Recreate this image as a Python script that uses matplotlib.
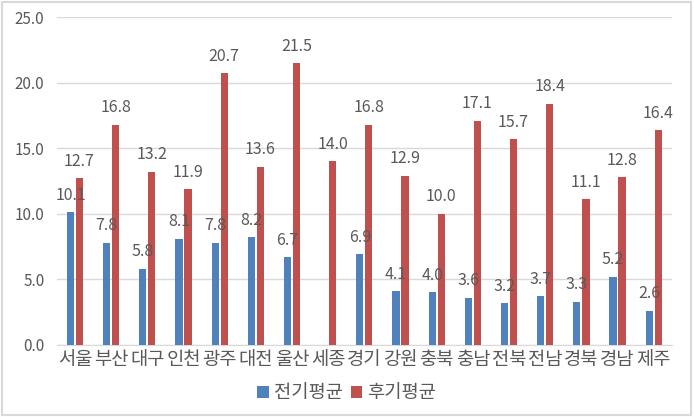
import matplotlib.pyplot as plt
import numpy as np
from matplotlib.patches import Rectangle

plt.rcParams['font.family'] = ['Noto Sans CJK KR', 'DejaVu Sans']

regions = ['서울', '부산', '대구', '인천', '광주', '대전', '울산', '세종', '경기',
           '강원', '충북', '충남', '전북', '전남', '경북', '경남', '제주']
early = [10.1, 7.8, 5.8, 8.1, 7.8, 8.2, 6.7, np.nan, 6.9,
         4.1, 4.0, 3.6, 3.2, 3.7, 3.3, 5.2, 2.6]
late = [12.7, 16.8, 13.2, 11.9, 20.7, 13.6, 21.5, 14.0, 16.8,
        12.9, 10.0, 17.1, 15.7, 18.4, 11.1, 12.8, 16.4]

blue = '#4F81BD'
red = '#C0504D'
txt = '#595959'

fig = plt.figure(figsize=(6.94, 4.17), dpi=100)
ax = fig.add_axes([0.082, 0.173, 0.886, 0.786])

x = np.arange(len(regions))
w = 0.2
off = 0.125
ax.bar(x - off, early, w, color=blue, label='전기평균', zorder=3)
ax.bar(x + off, late, w, color=red, label='후기평균', zorder=3)

for i in range(len(regions)):
    if not np.isnan(early[i]):
        ax.annotate(f'{early[i]:.1f}', (x[i] - off, early[i]), xytext=(0, 6),
                    textcoords='offset points', ha='center', va='bottom',
                    fontsize=11.5, color=txt)
    ax.annotate(f'{late[i]:.1f}', (x[i] + off, late[i]), xytext=(0, 6),
                textcoords='offset points', ha='center', va='bottom',
                fontsize=11.5, color=txt)

ax.set_xlim(-0.5, len(regions) - 0.5)
ax.set_ylim(0, 25)
ax.set_yticks(np.arange(0, 26, 5))
ax.set_yticklabels([f'{v:.1f}' for v in np.arange(0, 26, 5)], fontsize=11, color=txt)
ax.set_xticks(x)
ax.set_xticklabels(regions, fontsize=13.5, color=txt)
ax.tick_params(length=0)
ax.tick_params(axis='y', pad=9)
ax.tick_params(axis='x', pad=3)
ax.grid(axis='y', color='#D9D9D9', linewidth=1, zorder=0)
for s in ['top', 'right', 'left']:
    ax.spines[s].set_visible(False)
ax.spines['bottom'].set_color('#D9D9D9')

fig.legend(loc='center', bbox_to_anchor=(0.5, 0.058), ncol=2, frameon=False,
           fontsize=13.5, handlelength=0.6, handleheight=0.6, handletextpad=0.3,
           columnspacing=0.4, labelcolor=txt)

fig.patches.append(Rectangle((0.003, 0.005), 0.992, 0.99, transform=fig.transFigure,
                             fill=False, edgecolor='#D9D9D9', linewidth=1.5))

fig.savefig('out.png', dpi=100)
